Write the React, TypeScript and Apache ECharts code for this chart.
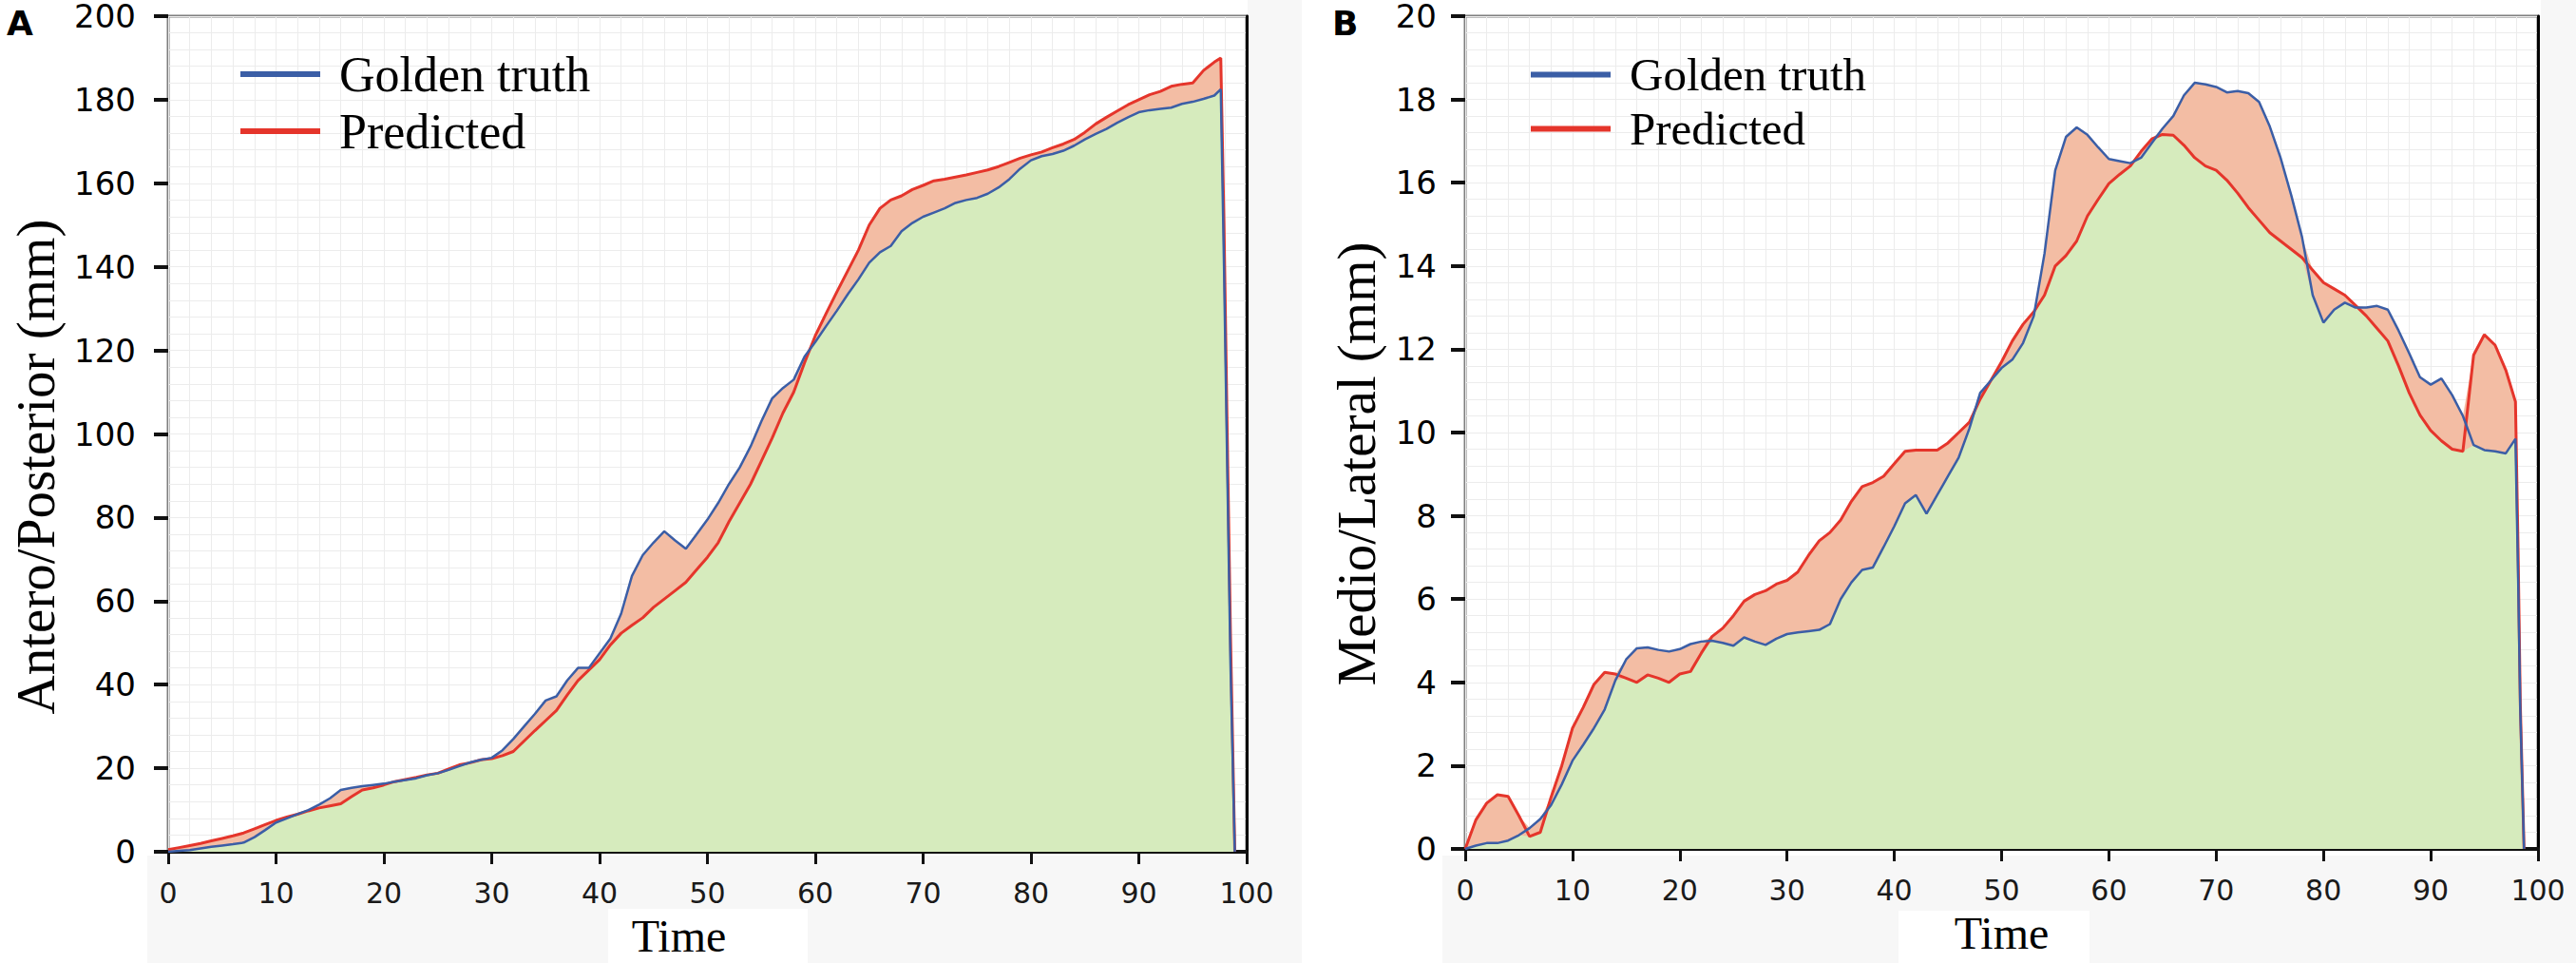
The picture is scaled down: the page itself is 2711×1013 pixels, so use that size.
import React, { useEffect, useRef } from "react";
import * as echarts from "echarts";

// ---------- Data ----------
const timeA = [
  0, 1, 2, 3, 4, 5, 6, 7, 8, 9, 10, 11, 12, 13, 14, 15, 16, 17, 18, 19, 20, 21, 22, 23, 24, 25, 26, 27, 28, 29,
  30, 31, 32, 33, 34, 35, 36, 37, 38, 39, 40, 41, 42, 43, 44, 45, 46, 47, 48, 49, 50, 51, 52, 53, 54, 55, 56, 57,
  58, 59, 60, 61, 62, 63, 64, 65, 66, 67, 68, 69, 70, 71, 72, 73, 74, 75, 76, 77, 78, 79, 80, 81, 82, 83, 84, 85,
  86, 87, 88, 89, 90, 91, 92, 93, 94, 95, 96, 97, 97.6, 97.9, 98.2, 98.5, 98.9,
];
const goldenA = [
  0, 0.2, 0.4, 0.8, 1.2, 1.5, 1.8, 2.2, 3.5, 5.2,
  7, 8, 9, 10, 11.3, 12.8, 14.8, 15.3, 15.7, 16,
  16.3, 16.8, 17.2, 17.6, 18.3, 18.8, 19.6, 20.5, 21.4, 22,
  22.5, 24.3, 27, 30, 33, 36.2, 37.2, 41, 44, 44,
  47.5, 51, 57, 66, 71, 74, 76.7, 74.5, 72.5, 76,
  79.5, 83.5, 88, 92, 97, 103, 108.5, 111, 113, 118.5,
  122, 125.8, 129.5, 133.4, 137, 141, 143.5, 145, 148.5, 150.5,
  152, 153, 154, 155.3, 156, 156.5, 157.5, 159, 161, 163.5,
  165.5, 166.5, 167, 167.8, 169, 170.5, 171.8, 173, 174.5, 175.8,
  177, 177.5, 177.8, 178.1, 179, 179.5, 180.2, 181,
  182.5, 140, 92, 45, 0,
];
const predictedA = [
  0.5, 1, 1.5, 2, 2.6, 3.2, 3.8, 4.5, 5.5, 6.5,
  7.5, 8.3, 9, 9.8, 10.5, 11, 11.5, 13.2, 14.8, 15.3,
  16, 16.8, 17.3, 17.8, 18.4, 18.8, 19.8, 20.8, 21.3, 22,
  22.3, 23, 24, 26.5, 29, 31.4, 33.8, 37.5, 41, 43.5,
  46, 49.5, 52.3, 54.2, 56, 58.5, 60.5, 62.5, 64.5, 67.5,
  70.5, 74, 79, 83.5, 88, 93.5, 99, 105, 110, 117,
  123.5, 128.8, 134, 139, 144, 150, 154, 156, 157, 158.5,
  159.5, 160.6, 161, 161.5, 162, 162.6, 163.2, 164, 165, 166,
  166.8, 167.5, 168.5, 169.4, 170.5, 172.2, 174.2, 175.8, 177.3, 178.8,
  180, 181.2, 182, 183.2, 183.7, 184, 187, 189,
  190, 150, 100, 52, 0,
];

const timeB = [
  0, 1, 2, 3, 4, 5, 6, 7, 8, 9, 10, 11, 12, 13, 14, 15, 16, 17, 18, 19, 20, 21, 22, 23, 24, 25, 26, 27, 28, 29,
  30, 31, 32, 33, 34, 35, 36, 37, 38, 39, 40, 41, 42, 43, 44, 45, 46, 47, 48, 49, 50, 51, 52, 53, 54, 55, 56, 57,
  58, 59, 60, 61, 62, 63, 64, 65, 66, 67, 68, 69, 70, 71, 72, 73, 74, 75, 76, 77, 78, 79, 80, 81, 82, 83, 84, 85,
  86, 87, 88, 89, 90, 91, 92, 93, 94, 95, 96, 97, 97.9, 98.15, 98.35, 98.7,
];
const goldenB = [
  0, 0.08, 0.14, 0.14, 0.2, 0.33, 0.5, 0.72, 1.05, 1.55,
  2.12, 2.5, 2.9, 3.35, 4.05, 4.55, 4.82, 4.84, 4.78, 4.74,
  4.8, 4.92, 4.98, 5.0, 4.95, 4.88, 5.08, 4.98, 4.9, 5.05,
  5.16, 5.2, 5.23, 5.26, 5.4, 6.0, 6.4, 6.7, 6.76, 7.25,
  7.75, 8.3, 8.5, 8.05, 8.5, 8.95, 9.4, 10.1, 10.95, 11.25,
  11.55, 11.75, 12.15, 12.8, 14.3, 16.3, 17.1, 17.33, 17.15, 16.85,
  16.57, 16.52, 16.47, 16.6, 16.95, 17.3, 17.6, 18.1, 18.4, 18.36,
  18.3, 18.17, 18.2, 18.15, 17.94, 17.35, 16.6, 15.7, 14.7, 13.3,
  12.64, 12.95, 13.12, 13.0, 13.0, 13.04, 12.95, 12.45, 11.9, 11.33,
  11.15, 11.3, 10.9, 10.4, 9.7, 9.58, 9.55, 9.5,
  9.85, 6.5, 3.35, 0,
];
const predictedB = [
  0, 0.7, 1.1, 1.3, 1.26, 0.8, 0.3, 0.4, 1.24, 2.0,
  2.9, 3.4, 3.95, 4.24, 4.2, 4.1, 4.0, 4.18, 4.1, 4.0,
  4.2, 4.26, 4.7, 5.1, 5.3, 5.6, 5.95, 6.11, 6.2, 6.36,
  6.45, 6.65, 7.05, 7.4, 7.6, 7.9, 8.35, 8.7, 8.8, 8.95,
  9.25, 9.55, 9.58, 9.58, 9.58, 9.75, 10.0, 10.25, 10.8, 11.25,
  11.7, 12.2, 12.6, 12.9, 13.3, 14.0, 14.25, 14.6, 15.2, 15.6,
  15.98, 16.2, 16.4, 16.75, 17.05, 17.16, 17.14, 16.9, 16.6, 16.4,
  16.3, 16.06, 15.75, 15.4, 15.1, 14.8, 14.6, 14.4, 14.2, 13.9,
  13.6, 13.45, 13.3, 13.05, 12.8, 12.5, 12.2, 11.6, 10.95, 10.42,
  10.05, 9.8, 9.6, 9.55, 11.86, 12.35, 12.1, 11.5,
  10.74, 7.1, 3.5, 0,
];

const seriesNames = ["Golden truth", "Predicted"];
const yTitleA = "Antero/Posterior (mm)";
const yTitleB = "Medio/Lateral (mm)";
const xTitle = "Time";

// ---------- Styles ----------
const BLUE = "#3b5ea6";
const RED = "#e5352b";
const GREEN = "#d6ebbd";
const SALMON = "#f3bda4";
const GRID_LINE = "#ececec";
const PANEL_GRAY = "#f7f7f7";
const SERIF = "'Liberation Serif', 'Times New Roman', serif";
const TICKFONT = "'DejaVu Sans', Verdana, sans-serif";

const zip = (t: number[], v: number[]) => t.map((x, i) => [x, v[i]]);

function panelSeries(t: number[], g: number[], p: number[], xi: number, yi: number) {
  const lower = g.map((v, i) => Math.min(v, p[i]));
  const upper = g.map((v, i) => Math.max(v, p[i]));
  const base = { type: "line", xAxisIndex: xi, yAxisIndex: yi, symbol: "none", silent: true };
  return [
    { ...base, name: "band", data: zip(t, upper), lineStyle: { width: 0 }, areaStyle: { color: SALMON, opacity: 1 }, z: 1 },
    { ...base, name: "base", data: zip(t, lower), lineStyle: { width: 0 }, areaStyle: { color: GREEN, opacity: 1 }, z: 2 },
    { ...base, name: seriesNames[1], data: zip(t, p), color: RED, itemStyle: { color: RED }, lineStyle: { color: RED, width: 3 }, z: 3 },
    { ...base, name: seriesNames[0], data: zip(t, g), color: BLUE, itemStyle: { color: BLUE }, lineStyle: { color: BLUE, width: 2.5 }, z: 4 },
  ];
}

function xAxes(gi: number, namePad: number[]) {
  return [
    {
      type: "value", gridIndex: gi, min: 0, max: 100, interval: 10, position: "bottom",
      axisLine: { show: true, lineStyle: { color: "#111", width: 4 } },
      axisTick: { show: false }, axisLabel: { show: false },
      splitLine: { show: true, lineStyle: { color: GRID_LINE, width: 1 } },
      minorTick: { show: false, splitNumber: 5 },
      minorSplitLine: { show: true, lineStyle: { color: GRID_LINE, width: 1 } },
      name: xTitle, nameLocation: "middle", nameGap: 64,
      nameTextStyle: { fontFamily: SERIF, fontSize: 48, color: "#000", padding: namePad },
    },
    {
      type: "value", gridIndex: gi, min: 0, max: 100, interval: 10, offset: 8, position: "bottom",
      axisLine: { show: false },
      axisTick: { show: true, length: 13, lineStyle: { color: "#111", width: 3 } },
      axisLabel: { show: true, margin: 20, fontFamily: TICKFONT, fontSize: 30, color: "#1a1a1a" },
      splitLine: { show: false },
    },
  ];
}

function yAxes(gi: number, max: number, interval: number, margin: number) {
  return [
    {
      type: "value", gridIndex: gi, min: 0, max, interval, position: "left",
      axisLine: { show: false }, axisTick: { show: false }, axisLabel: { show: false },
      splitLine: { show: true, lineStyle: { color: GRID_LINE, width: 1 } },
      minorTick: { show: false, splitNumber: 5 },
      minorSplitLine: { show: true, lineStyle: { color: GRID_LINE, width: 1 } },
    },
    {
      type: "value", gridIndex: gi, min: 0, max, interval, offset: 5, position: "left",
      axisLine: { show: false },
      axisTick: { show: true, length: 15, lineStyle: { color: "#111", width: 4 } },
      axisLabel: {
        show: true, margin, fontFamily: TICKFONT, fontSize: 34, lineHeight: 28, color: "#000", padding: [4, 0, 0, 0],
      },
      splitLine: { show: false },
    },
    {
      type: "value", gridIndex: gi, min: 0, max, interval, position: "right",
      axisLine: { show: true, lineStyle: { color: "#000", width: 3 } },
      axisTick: { show: false }, axisLabel: { show: false }, splitLine: { show: false },
    },
  ];
}

function legend(left: number, top: number, fontSize: number) {
  return {
    data: seriesNames, orient: "vertical", left, top, icon: "rect",
    itemWidth: 84, itemHeight: 6, itemGap: 8, selectedMode: false,
    textStyle: { fontFamily: SERIF, fontSize, color: "#000", padding: [0, 0, 8, 15] },
  };
}

export default function App() {
  const ref = useRef<HTMLDivElement>(null);
  useEffect(() => {
    if (!ref.current) return;
    const chart = echarts.init(ref.current, undefined, { renderer: "svg" });
    const option: any = {
      animation: false,
      backgroundColor: "#ffffff",
      grid: [
        { left: 177, top: 17, width: 1135, height: 879, show: true, borderColor: "#7f7f7f", borderWidth: 3, backgroundColor: "#ffffff" },
        { left: 1542, top: 16, width: 1129, height: 877, show: true, borderColor: "#7f7f7f", borderWidth: 3, backgroundColor: "#ffffff" },
      ],
      xAxis: [...xAxes(0, [0, 60, 0, 0]), ...xAxes(1, [0, 0, 0, 0])],
      yAxis: [...yAxes(0, 200, 20, 29), ...yAxes(1, 20, 2, 25)],
      legend: [legend(248, 47, 52), legend(1606, 49, 49)],
      series: [...panelSeries(timeA, goldenA, predictedA, 0, 0), ...panelSeries(timeB, goldenB, predictedB, 2, 3)],
      graphic: [
        { type: "rect", z: -10, shape: { x: 155, y: 900, width: 1215, height: 113 }, style: { fill: PANEL_GRAY } },
        { type: "rect", z: -10, shape: { x: 1313, y: 0, width: 57, height: 1013 }, style: { fill: PANEL_GRAY } },
        { type: "rect", z: -9, shape: { x: 640, y: 956, width: 210, height: 57 }, style: { fill: "#ffffff" } },
        { type: "rect", z: -10, shape: { x: 1518, y: 900, width: 1193, height: 113 }, style: { fill: PANEL_GRAY } },
        { type: "rect", z: -10, shape: { x: 2674, y: 0, width: 37, height: 1013 }, style: { fill: PANEL_GRAY } },
        { type: "rect", z: -9, shape: { x: 1998, y: 958, width: 201, height: 55 }, style: { fill: "#ffffff" } },
        { type: "text", left: 7, top: 6, style: { text: "A", font: `bold 36px ${TICKFONT}`, fill: "#000" } },
        { type: "text", left: 1402, top: 6, style: { text: "B", font: `bold 36px ${TICKFONT}`, fill: "#000" } },
        {
          type: "text", x: 37, y: 491, rotation: Math.PI / 2,
          style: { text: yTitleA, font: `57px ${SERIF}`, fill: "#000", textAlign: "center", textVerticalAlign: "middle" },
        },
        {
          type: "text", x: 1427, y: 488, rotation: Math.PI / 2,
          style: { text: yTitleB, font: `57px ${SERIF}`, fill: "#000", textAlign: "center", textVerticalAlign: "middle" },
        },
      ],
    };
    chart.setOption(option);
    return () => chart.dispose();
  }, []);
  return (
    <div
      ref={ref}
      style={{ position: "absolute", left: 0, top: 0, width: 2711, height: 1013, background: "#fff" }}
    />
  );
}
